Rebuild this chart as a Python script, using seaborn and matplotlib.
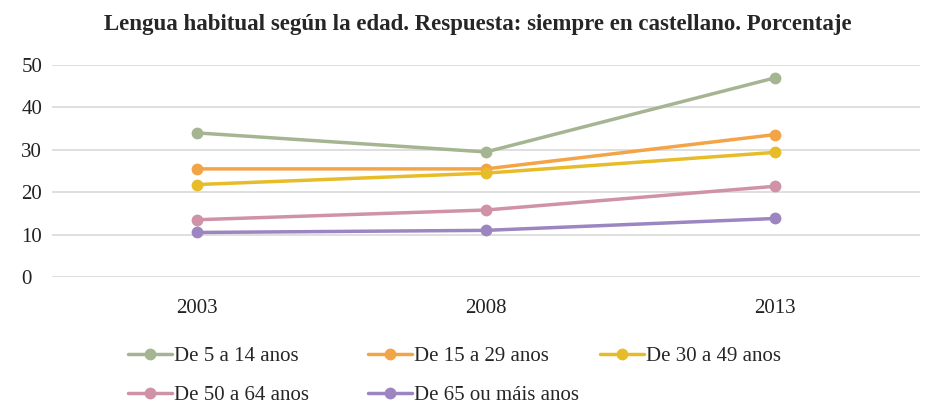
import matplotlib.pyplot as plt
import pandas as pd
import seaborn as sns

years = ["2003", "2008", "2013"]
groups = ["De 5 a 14 anos", "De 15 a 29 anos", "De 30 a 49 anos", "De 50 a 64 anos", "De 65 ou máis anos"]
v_5_14 = [34.0, 29.5, 47.0]
v_15_29 = [25.5, 25.5, 33.6]
v_30_49 = [21.8, 24.5, 29.4]
v_50_64 = [13.5, 15.8, 21.4]
v_65 = [10.5, 11.0, 13.8]
colors = ["#A5B592", "#F3A447", "#E7BC29", "#D092A7", "#9C85C0"]

rows = []
for g, vals in zip(groups, [v_5_14, v_15_29, v_30_49, v_50_64, v_65]):
    for y, v in zip(years, vals):
        rows.append({"year": y, "group": g, "value": v})
df = pd.DataFrame(rows)

sns.set_style("white")
plt.rcParams["font.family"] = ["Liberation Serif", "DejaVu Serif"]

fig = plt.figure(figsize=(9.26, 4.04), dpi=100)
ax = fig.add_axes([0.056, 0.3144, 0.9375, 0.5246])
sns.lineplot(
    data=df, x="year", y="value", hue="group", hue_order=groups,
    palette=dict(zip(groups, colors)), marker="o", markersize=8.5,
    markeredgewidth=0, linewidth=2.5, sort=False, ax=ax,
)
ax.set_xlim(-0.5, 2.5)
ax.set_ylim(0, 50)
ax.set_yticks([0, 10, 20, 30, 40, 50])
ax.yaxis.grid(True, color="#D9D9D9", linewidth=1.2)
ax.set_axisbelow(True)
for s in ax.spines.values():
    s.set_visible(False)
ax.tick_params(axis="both", length=0, labelsize=15, colors="#222222")
ax.tick_params(axis="x", pad=16)
ax.tick_params(axis="y", pad=22)
for lbl in ax.get_yticklabels():
    lbl.set_horizontalalignment("left")
ax.set_xlabel("")
ax.set_ylabel("")

handles, labels = ax.get_legend_handles_labels()
ax.get_legend().remove()
# one legend per column so the columns sit on a fixed grid
col_x = [128, 368, 600]
col_items = [[0, 3], [1, 4], [2]]
for cx, idx in zip(col_x, col_items):
    fig.legend([handles[i] for i in idx], [labels[i] for i in idx],
               loc="upper left", bbox_to_anchor=(cx / 926, 0.143),
               frameon=False, fontsize=15, handlelength=2.1, handletextpad=0.1,
               labelspacing=0.95, borderaxespad=0, borderpad=0)

fig.suptitle("Lengua habitual según la edad. Respuesta: siempre en castellano. Porcentaje",
             fontsize=16.5, fontweight="bold", x=0.516, y=0.965)
fig.savefig("out.png", dpi=100)
